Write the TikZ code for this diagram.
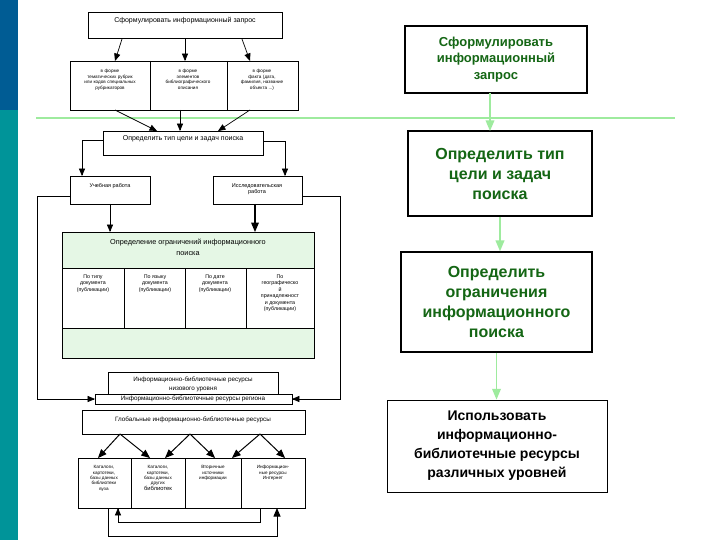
\documentclass[tikz,border=0pt]{standalone}
\usepackage{fontspec}
\setmainfont{Liberation Sans}
\usetikzlibrary{positioning, calc, arrows}
\definecolor{darkgreen}{rgb}{0.08, 0.40, 0.08}
\definecolor{palegreen}{rgb}{0.90, 0.97, 0.90}
\definecolor{linegreen}{rgb}{0.62, 0.92, 0.62}
\definecolor{barblue}{rgb}{0.00, 0.36, 0.58}
\definecolor{barteal}{rgb}{0.00, 0.58, 0.60}

\tikzset{
	box/.style={draw, line width=0.6pt, inner sep=0pt},
	tiny/.style={font=\fontsize{4.6}{5.4}\selectfont, align=center},
	small/.style={font=\fontsize{7}{8.5}\selectfont, align=center},
	big/.style={draw, line width=1.6pt, font=\fontsize{16}{20}\bfseries\selectfont, align=center, text=darkgreen},
	arr/.style={-triangle 45, line width=0.7pt},
	garr/.style={-triangle 45, line width=1.5pt, linegreen},
}

\begin{document}
\begin{tikzpicture}[x=1pt, y=-1pt]
	\useasboundingbox (0,0) rectangle (720,540);
	\fill[white] (0,0) rectangle (720,540);
	% side bar and rule
	\fill[barblue] (0,0) rectangle (18,110);
	\fill[barteal] (0,110) rectangle (18,540);
	\draw[linegreen, line width=1.5pt] (36,118) -- (675,118);
	
	% left scheme
	\node[box, minimum width=194pt, minimum height=26pt, anchor=north west, small] (query) at (88,12) {};
	\node[small, anchor=north] at (185,14) {Сформулировать информационный запрос};
	\draw[box] (70,61) rectangle (298,110);
	\draw (150,61) -- (150,110) (227,61) -- (227,110);
	\node[tiny, text width=76pt, anchor=north] (form1) at (110,66) {в форме\\тематических рубрик\\или кодов специальных\\рубрикаторов};
	\node[tiny, text width=72pt, anchor=north] (form2) at (188,66) {в форме\\элементов\\библиографического\\описания};
	\node[tiny, text width=68pt, anchor=north] (form3) at (262,66) {в форме\\факта (дата,\\фамилия, название\\объекта ...)};
	\coordinate (f1) at (115,61); \coordinate (f2) at (185,61); \coordinate (f3) at (250,61);
	\draw[arr] (122,39) -- (f1);
	\draw[arr] (185,39) -- (f2);
	\draw[arr] (242,39) -- (f3);
	
	\draw[box] (103,131) rectangle (263,155);
	\node[small, anchor=north] (goal) at (183,132) {Определить тип цели и задач поиска};
	\coordinate (g1) at (157,131); \coordinate (g2) at (180,131); \coordinate (g3) at (218,131);
	\draw[arr] (115,110) -- (g1);
	\draw[arr] (180,110) -- (g2);
	\draw[arr] (250,110) -- (g3);
	
	\draw[box] (70,176) rectangle (150,204);
	\node[tiny, font=\fontsize{5.5}{6.5}\selectfont, anchor=north] (study) at (110,180) {Учебная работа};
	\draw[box] (213,176) rectangle (302,204);
	\node[tiny, font=\fontsize{5.5}{6.5}\selectfont, anchor=north] (research) at (257,180) {Исследовательская\\работа};
	\draw[arr] (103,140) -| (82,176);
	\draw[arr] (263,141) -| (285,176);
	
	% limits
	\draw[box, fill=palegreen] (62,232) rectangle (314,358);
	\fill[white] (62,268) rectangle (314,328);
	\draw (62,232) rectangle (314,358) (62,268) -- (314,268) (62,328) -- (314,328);
	\draw (124,268) -- (124,328) (185,268) -- (185,328) (246,268) -- (246,328);
	\node[small, anchor=north, font=\fontsize{7.3}{11}\selectfont] (limits) at (188,236) {Определение ограничений информационного\\поиска};
	\node[tiny, font=\fontsize{5.3}{6.5}\selectfont, anchor=north] (lim1) at (93,271) {По типу\\документа\\(публикации)};
	\node[tiny, font=\fontsize{5.3}{6.5}\selectfont, anchor=north] (lim2) at (155,271) {По языку\\документа\\(публикации)};
	\node[tiny, font=\fontsize{5.3}{6.5}\selectfont, anchor=north] (lim3) at (215,271) {По дате\\документа\\(публикации)};
	\node[tiny, font=\fontsize{5.3}{6.5}\selectfont, anchor=north] (lim4) at (280,271) {По\\географическо\\й\\принадлежност\\и документа\\(публикации)};
	\draw[arr] (110,204) -- (110,232);
	\draw[arr, line width=1.2pt] (255,204) -- (255,232);
	
	% resources
	\draw[box] (108,372) rectangle (278,394);
	\node[small, font=\fontsize{6.3}{9}\selectfont, anchor=north] (low) at (193,373) {Информационно-библиотечные ресурсы\\низового уровня};
	\draw[box, fill=white] (95,394) rectangle (292,404);
	\node[small, font=\fontsize{6.3}{7}\selectfont] (region) at (193,399) {Информационно-библиотечные ресурсы региона};
	\draw[arr] (70,196) -- (37,196) |- (95,399);
	\draw[arr] (302,196) -- (340,196) |- (292,399);
	
	\draw[box] (82,410) rectangle (305,434);
	\node[small, font=\fontsize{6.3}{7}\selectfont] (global) at (193,420) {Глобальные информационно-библиотечные ресурсы};
	
	\draw[box] (78,458) rectangle (305,508);
	\draw (131,458) -- (131,508) (185,458) -- (185,508) (241,458) -- (241,508);
	\node[tiny, anchor=north] (src1) at (104,462) {Каталоги,\\картотеки,\\базы данных\\библиотеки\\вуза};
	\node[tiny, anchor=north] (src2) at (158,462) {Каталоги,\\картотеки,\\базы данных\\других\\\fontsize{5.8}{6.6}\selectfont библиотек};
	\node[tiny, anchor=north] (src3) at (213,462) {Вторичные\\источники\\информации};
	\node[tiny, anchor=north] (src4) at (273,462) {Информацион-\\ные ресурсы\\Интернет};
	\foreach \a/\b/\c in {120/98/150, 190/165/215, 260/232/285} {
		\draw[arr, line width=1pt] (\a,434) -- (\b,458);
		\draw[arr, line width=1pt] (\a,434) -- (\c,458);
	}
	\draw[arr] (260,508) -- (260,522) -| (118,508);
	\draw[arr, line width=1pt] (108,508) -- (108,536) -| (277,508);
	
	% right column
	\node[big, minimum width=182pt, minimum height=67pt, text=darkgreen, font=\fontsize{13}{16.5}\bfseries\selectfont] (rq) at (496,59.5) {Сформулировать\\информационный\\запрос};
	\node[big, minimum width=184pt, minimum height=85pt] (rgoal) at (500,173.5) {Определить тип\\цели и задач\\поиска};
	\node[big, minimum width=191pt, minimum height=100pt] (rlim) at (496.5,302) {Определить\\ограничения\\информационного\\поиска};
	\node[big, line width=1pt, text=black, minimum width=220pt, minimum height=92pt, font=\fontsize{14}{19}\bfseries\selectfont] (rres) at (497,446) {Использовать\\информационно-\\библиотечные ресурсы\\различных уровней};
	\draw[garr] (490,93) -- (490,131);
	\draw[garr] (rgoal) -- (rgoal |- rlim.north);
	\draw[garr] (rlim) -- (rlim |- rres.north);
\end{tikzpicture}
\end{document}
